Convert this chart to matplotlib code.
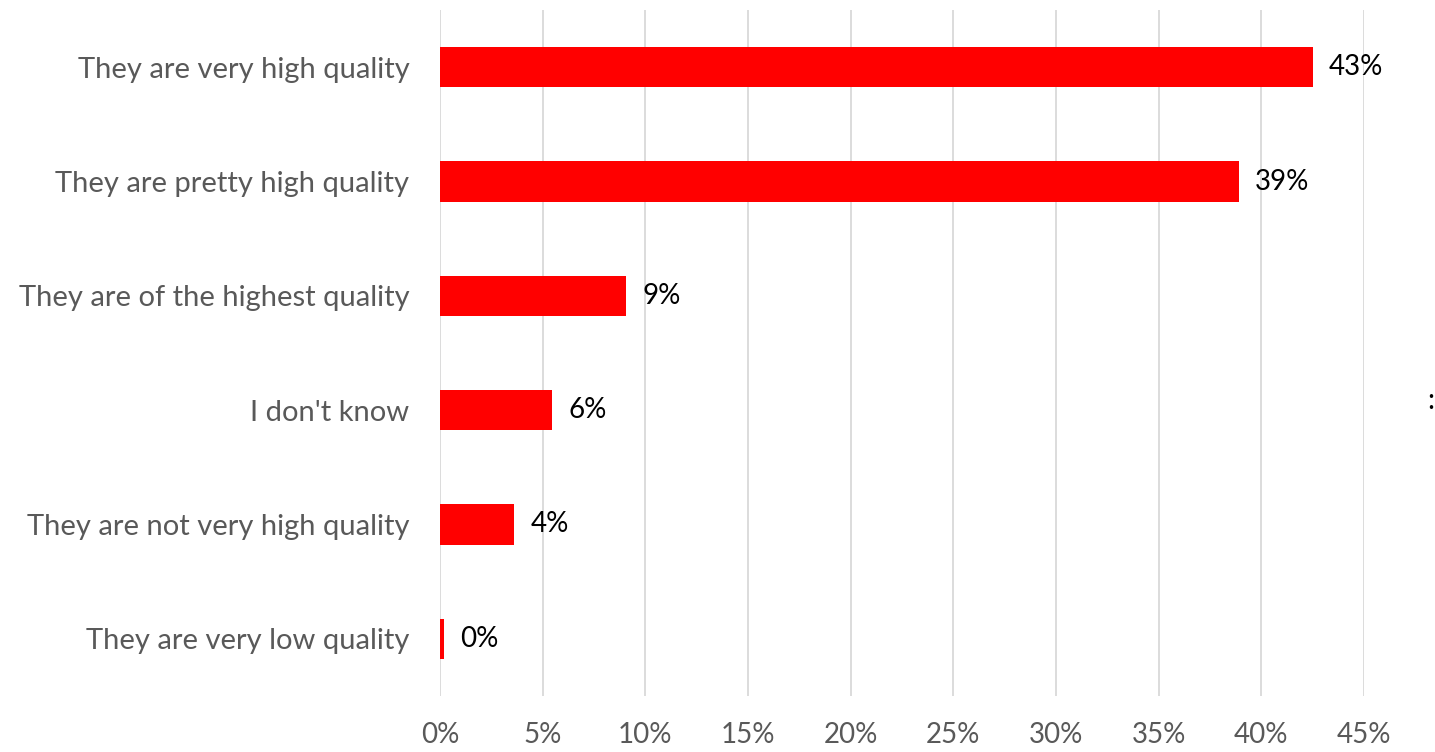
import matplotlib
matplotlib.use("Agg")
import matplotlib.pyplot as plt
from matplotlib.ticker import PercentFormatter

categories = ["They are very high quality", "They are pretty high quality",
              "They are of the highest quality", "I don't know",
              "They are not very high quality", "They are very low quality"]
values = [42.5, 38.9, 9.06, 5.45, 3.6, 0.2]
labels = ["43%", "39%", "9%", "6%", "4%", "0%"]
xticks = [0, 5, 10, 15, 20, 25, 30, 35, 40, 45]

plt.rcParams['font.family'] = ['Lato', 'DejaVu Sans']

fig = plt.figure(figsize=(14.35, 7.52), dpi=100)
ax = fig.add_axes([440/1435, 1 - 696/752, (1364 - 440)/1435, (696 - 10)/752])

ypos = list(range(len(categories)))
ax.barh(ypos, values, height=0.35, color="#FF0000", zorder=3)
for y, v, lab in zip(ypos, values, labels):
    ax.text(v + 0.8, y, lab, va="center", ha="left", fontsize=20, color="black")

ax.set_ylim(len(categories) - 0.5, -0.5)
ax.set_xlim(0, 45)
ax.set_yticks(ypos)
ax.set_yticklabels(categories, fontsize=21, color="#595959")
ax.set_xticks(xticks)
ax.xaxis.set_major_formatter(PercentFormatter(decimals=0))
ax.tick_params(axis="x", labelsize=20, labelcolor="#595959", length=0, pad=19)
ax.tick_params(axis="y", length=0, pad=22)
ax.grid(axis="x", color="#D9D9D9", linewidth=1.3, zorder=0)
for s in ax.spines.values():
    s.set_visible(False)

fig.text(1431/1435, 1 - 401/752, ":", fontsize=20, color="black", ha="center", va="center")

fig.savefig("out.png", dpi=100)
